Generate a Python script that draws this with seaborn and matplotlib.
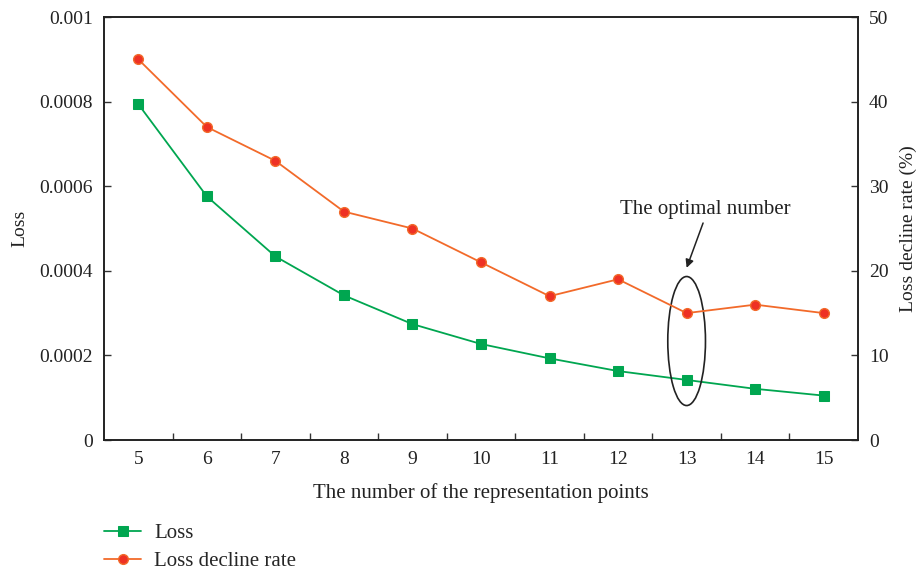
import matplotlib
matplotlib.use("Agg")
import matplotlib.pyplot as plt
import seaborn as sns
import pandas as pd
from matplotlib.patches import Ellipse

points = [5, 6, 7, 8, 9, 10, 11, 12, 13, 14, 15]
loss = [0.000794, 0.000576, 0.000434, 0.000342, 0.000274, 0.000227,
        0.000193, 0.000163, 0.000142, 0.000121, 0.000105]
decline_rate = [45, 37, 33, 27, 25, 21, 17, 19, 15, 16, 15]
left_ticks = [0, 0.0002, 0.0004, 0.0006, 0.0008, 0.001]
left_labels = ["0", "0.0002", "0.0004", "0.0006", "0.0008", "0.001"]
right_ticks = [0, 10, 20, 30, 40, 50]

df = pd.DataFrame({"points": points, "loss": loss, "rate": decline_rate})

sns.set_theme(style="white")
plt.rcParams["font.family"] = ["Liberation Serif", "DejaVu Serif"]

green = "#00a650"
orange = "#f26a2a"
red = "#ee3124"
ink = "#222222"

fig = plt.figure(figsize=(9.19, 5.73), dpi=100)
ax = fig.add_axes([0.1132, 0.2321, 0.8204, 0.7382])
ax2 = ax.twinx()

sns.lineplot(data=df, x="points", y="loss", ax=ax, color=green, marker="s",
             markersize=7, markeredgecolor=green, linewidth=1.3, label="Loss",
             legend=False)
sns.lineplot(data=df, x="points", y="rate", ax=ax2, color=orange, marker="o",
             markersize=7, markerfacecolor=red, markeredgecolor=orange,
             markeredgewidth=1, linewidth=1.3, label="Loss decline rate",
             legend=False)

ax.set_xlim(4.5, 15.5)
ax.set_ylim(0, 0.001)
ax2.set_ylim(0, 50)

ax.set_xticks(points)
ax.set_xticks([p + 0.5 for p in points[:-1]], minor=True)
ax.tick_params(axis="x", which="major", length=0, labelsize=14, pad=8)
ax.tick_params(axis="x", which="minor", direction="in", length=5, width=1,
               color="#333333", bottom=True)
ax.set_yticks(left_ticks)
ax.set_yticklabels(left_labels)
ax.tick_params(axis="y", direction="in", length=5, width=1, color="#333333",
               labelsize=14, left=True, pad=8)
ax2.set_yticks(right_ticks)
ax2.tick_params(axis="y", direction="in", length=5, width=1, color="#333333",
                labelsize=14, right=True, pad=8)

for a in (ax, ax2):
    for s in a.spines.values():
        s.set_color(ink)
        s.set_linewidth(1.2)

ax.set_xlabel("The number of the representation points", fontsize=15,
              labelpad=11, color=ink)
ax.set_ylabel("Loss", fontsize=14, color=ink, labelpad=8)
ax2.set_ylabel("Loss decline rate (%)", fontsize=14, color=ink, labelpad=8)
for lbl in ax.get_xticklabels() + ax.get_yticklabels() + ax2.get_yticklabels():
    lbl.set_color(ink)

# Highlight the optimal number of representation points
ax.add_patch(Ellipse((13, 0.000234), width=0.55, height=0.000305,
                     fill=False, edgecolor=ink, linewidth=1.2, zorder=5))
ax.text(13.27, 0.000545, "The optimal number", fontsize=15, color=ink,
        ha="center", va="center")
ax.annotate("", xy=(13.0, 0.000407), xytext=(13.24, 0.000513),
            arrowprops=dict(arrowstyle="-|>", color=ink, lw=1.1,
                            shrinkA=0, shrinkB=0, mutation_scale=12))

h1, l1 = ax.get_legend_handles_labels()
h2, l2 = ax2.get_legend_handles_labels()
fig.legend(h1 + h2, l1 + l2, loc="upper left", bbox_to_anchor=(0.104, 0.101),
           frameon=False, fontsize=15, handlelength=1.8, labelspacing=0.4,
           borderaxespad=0, handletextpad=0.62)

fig.savefig("out.png", dpi=100)
